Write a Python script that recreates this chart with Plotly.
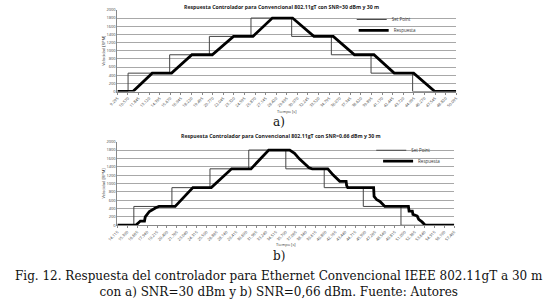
import plotly.graph_objects as go

# ---------------- data: chart a) SNR=30 dBm ----------------
a_ticks = ["9.295", "10.570", "11.845", "13.120", "14.395", "15.670", "16.945", "18.220",
           "19.495", "20.770", "22.045", "23.320", "24.595", "25.870", "27.145", "28.420",
           "29.695", "30.970", "32.245", "33.520", "34.795", "36.070", "37.345", "38.620",
           "39.895", "41.170", "42.445", "43.720", "44.995", "46.270", "47.545", "48.820", "50.095"]
a_sp_t = [9.295, 10.58, 15.59, 20.37, 25.38, 30.28, 35.06, 39.84, 44.85, 50.095]
a_sp_v = [0, 450, 900, 1350, 1800, 1350, 900, 450, 0, 0]
a_resp_t = [9.295, 11.16, 13.49, 15.82, 18.27, 20.72, 23.28, 25.62, 27.95, 30.39, 32.96,
            35.29, 37.85, 40.19, 42.63, 44.97, 47.53, 50.095]
a_resp_v = [0, 0, 450, 450, 900, 900, 1350, 1350, 1800, 1800, 1350, 1350, 900, 900, 450,
            450, 0, 0]

# ---------------- data: chart b) SNR=0.66 dBm ----------------
b_ticks = ["14.115", "15.390", "16.665", "17.940", "19.215", "20.490", "21.765", "23.040",
           "24.315", "25.590", "26.865", "28.140", "29.415", "30.690", "31.965", "33.240",
           "34.515", "35.790", "37.065", "38.340", "39.615", "40.890", "42.165", "43.440",
           "44.715", "45.990", "47.265", "48.540", "49.815", "51.090", "52.365", "53.640",
           "54.915", "56.190", "57.465"]
b_sp_t = [14.115, 16.23, 21.13, 26.03, 31.02, 35.79, 40.73, 45.76, 50.61, 57.465]
b_sp_v = [0, 450, 900, 1350, 1800, 1350, 900, 450, 0, 0]
b_resp_t = [14.115, 16.48, 17.07, 17.60, 17.70, 17.81, 18.23, 19.06, 19.47, 21.55, 23.83,
            26.20, 28.81, 31.31, 33.59, 36.29, 36.91, 37.53, 37.95, 38.37, 38.78, 39.19,
            41.19, 41.89, 42.31, 42.73, 43.55, 43.62, 43.76, 47.09, 47.15, 47.50, 47.91,
            48.25, 48.53, 51.57, 51.65, 52.07, 52.15, 52.70, 52.89, 53.32, 53.73, 57.465]
b_resp_v = [0, 0, 100, 100, 200, 230, 330, 420, 450, 450, 900,
            900, 1350, 1350, 1800, 1800, 1720, 1590, 1510, 1440, 1375, 1350,
            1350, 1200, 1120, 1050, 1050, 950, 900, 900, 690, 610, 570,
            490, 450, 450, 340, 340, 260, 220, 140, 80, 0, 0]

y_ticks = [0, 200, 400, 600, 800, 1000, 1200, 1400, 1600, 1800, 2000]

title_a = "Respuesta Controlador para Convencional 802.11gT con SNR=30 dBm y 30 m"
title_b = "Respuesta Controlador para Convencional 802.11gT con SNR=0.66 dBm y 30 m"
caption = ("Fig. 12. Respuesta del controlador para Ethernet Convencional IEEE 802.11gT a 30 m<br>"
           "con a) SNR=30 dBm y b) SNR=0,66 dBm. Fuente: Autores")

W, H = 550, 302
SANS = "Open Sans"
SERIF = "DejaVu Serif"


def px(v):
    return v / W


def py(v):
    return 1 - v / H


SP_LINE = dict(color="#444444", width=1, shape="hv")
RESP_LINE = dict(color="#000000", width=2.8)

fig = go.Figure()
fig.add_trace(go.Scatter(x=a_sp_t, y=a_sp_v, mode="lines", name="Set Point", line=SP_LINE,
                         xaxis="x", yaxis="y", legend="legend"))
fig.add_trace(go.Scatter(x=a_resp_t, y=a_resp_v, mode="lines", name="Respuesta", line=RESP_LINE,
                         xaxis="x", yaxis="y", legend="legend2"))
fig.add_trace(go.Scatter(x=b_sp_t, y=b_sp_v, mode="lines", name="Set Point", line=SP_LINE,
                         xaxis="x2", yaxis="y2", legend="legend3"))
fig.add_trace(go.Scatter(x=b_resp_t, y=b_resp_v, mode="lines", name="Respuesta", line=RESP_LINE,
                         xaxis="x2", yaxis="y2", legend="legend4"))

tickfont = dict(family=SANS, size=4, color="#444444")


def xaxis(dom, anchor, ticks, rng):
    return dict(domain=dom, anchor=anchor, range=rng,
                tickvals=[float(t) for t in ticks], ticktext=ticks,
                tickangle=-45, tickfont=tickfont, showgrid=False,
                showline=True, linecolor="#888888", linewidth=1,
                ticks="outside", ticklen=2, tickcolor="#888888",
                zeroline=False,
                title=dict(text="Tiempo [s]", font=dict(family=SANS, size=4, color="#333333"),
                           standoff=2))


def yaxis(dom, anchor):
    return dict(domain=dom, anchor=anchor, range=[0, 2000], tickvals=y_ticks,
                tickfont=tickfont, showgrid=True, gridcolor="#a8a8a8", gridwidth=1,
                showline=True, linecolor="#888888", linewidth=1, zeroline=False,
                ticks="", ticklen=0,
                title=dict(text="Velocidad [RPM]", font=dict(family=SANS, size=4, color="#333333"),
                           standoff=1))


def legend(x, y):
    return dict(x=px(x), y=py(y), xanchor="left", yanchor="top",
                font=dict(family=SANS, size=4.5, color="#333333"),
                bgcolor="rgba(0,0,0,0)", itemwidth=30)


fig.update_layout(
    width=W, height=H,
    margin=dict(l=0, r=0, t=0, b=0),
    paper_bgcolor="white", plot_bgcolor="white",
    xaxis=xaxis([px(110), px(457)], "y", a_ticks, [9.295, 50.095]),
    yaxis=yaxis([py(90), py(7)], "x"),
    xaxis2=xaxis([px(110), px(455)], "y2", b_ticks, [14.115, 57.465]),
    yaxis2=yaxis([py(226), py(141)], "x2"),
    legend=legend(350, 2),
    legend2=legend(352, 13),
    legend3=legend(370, 135),
    legend4=legend(377, 146),
    showlegend=True,
    annotations=[
        dict(text="<b>" + title_a + "</b>", x=px(278), y=py(4.5), xref="paper", yref="paper",
             showarrow=False, font=dict(family=SANS, size=5.2, color="#222222"),
             xanchor="center", yanchor="middle"),
        dict(text="<b>" + title_b + "</b>", x=px(278), y=py(135), xref="paper", yref="paper",
             showarrow=False, font=dict(family=SANS, size=5.2, color="#222222"),
             xanchor="center", yanchor="middle"),
        dict(text="a)", x=px(276), y=py(121), xref="paper", yref="paper", showarrow=False,
             font=dict(family=SERIF, size=12, color="#111111"), xanchor="center", yanchor="middle"),
        dict(text="b)", x=px(276), y=py(257), xref="paper", yref="paper", showarrow=False,
             font=dict(family=SERIF, size=12, color="#111111"), xanchor="center", yanchor="middle"),
        dict(text=caption, x=px(276), y=py(285.5), xref="paper", yref="paper", showarrow=False,
             font=dict(family=SERIF, size=12, color="#111111"), xanchor="center", yanchor="middle",
             align="center"),
    ],
)

fig.write_html("out.html", config={"displayModeBar": False},
               post_script="document.body.style.margin='0';")
